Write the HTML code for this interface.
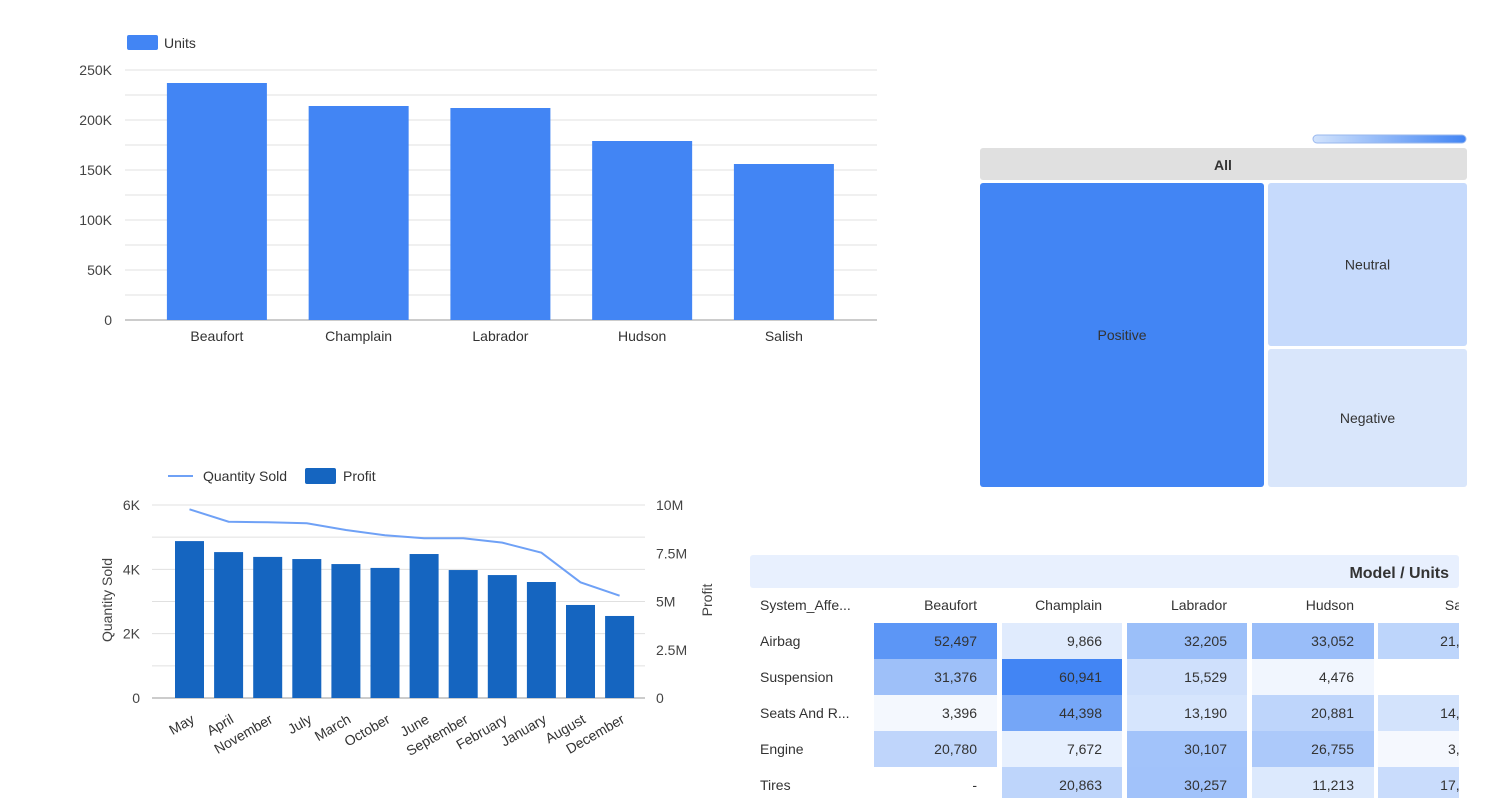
<!DOCTYPE html>
<html><head><meta charset="utf-8">
<style>
body{margin:0;width:1500px;height:798px;background:#fff;font-family:"Liberation Sans",Arial,sans-serif;overflow:hidden;position:relative}
svg{position:absolute;left:0;top:0}
</style></head>
<body>
<svg id="s" width="1500" height="798" font-family="Liberation Sans, Arial, sans-serif"></svg>
<script>
const NS="http://www.w3.org/2000/svg";
const svg=document.getElementById('s');
function mk(tag,a,parent,txt){const e=document.createElementNS(NS,tag);for(const k in a)e.setAttribute(k,a[k]);if(txt!==undefined)e.textContent=txt;(parent||svg).appendChild(e);return e;}

// ---- Chart 1 data
const models=["Beaufort","Champlain","Labrador","Hudson","Salish"];
const units=[237000,214000,212000,179000,156000];
const unitTicks=["0","50K","100K","150K","200K","250K"];

// ---- Chart 2 data
const months=["May","April","November","July","March","October","June","September","February","January","August","December"];
const profit=[8.13,7.56,7.31,7.20,6.94,6.74,7.46,6.63,6.37,6.01,4.82,4.25];
const qty=[5866,5481,5462,5431,5223,5058,4965,4965,4829,4518,3596,3181];
const qtyTicks=["0","2K","4K","6K"];
const profitTicks=["0","2.5M","5M","7.5M","10M"];

// ---- Treemap data
const tmLabels=["Positive","Neutral","Negative"];

// ---- Table data
const sysRows=["Airbag","Suspension","Seats And R...","Engine","Tires"];
const tblCols=["Beaufort","Champlain","Labrador","Hudson","Salish"];
const tblVals=[[52497,9866,32205,33052,21245],[31376,60941,15529,4476,null],[3396,44398,13190,20881,14236],[20780,7672,30107,26755,3312],[null,20863,30257,11213,17354]];

// ===== Chart 1
const g1=mk('g',{});


const y1=v=>320-v/250000*250;
for(let i=0;i<=10;i++){const l=mk('line',{x1:125,x2:877,y1:y1(i*25000),y2:y1(i*25000),stroke:i==0?'#999':'#e0e0e0','stroke-width':1},g1);}
unitTicks.forEach((t,i)=>{const e=mk('text',{x:112,y:y1(i*50000)+5,'text-anchor':'end','font-size':14,fill:'#444'},g1,t);});
const bx1=i=>146+141.75*i+70.9;
units.forEach((v,i)=>{const r=mk('rect',{x:bx1(i)-50,y:y1(v),width:100,height:320-y1(v),fill:'#4285f4'},g1);
const t=mk('text',{x:bx1(i),y:341,'text-anchor':'middle','font-size':14,fill:'#333'},g1,models[i]);});
let e=mk('rect',{x:127,y:35,width:31,height:15,rx:2,fill:'#4285f4'},g1);
e=mk('text',{x:164,y:48,'font-size':14,fill:'#333'},g1,'Units');

// ===== Chart 2
const g2=mk('g',{});


const yq=v=>698-v/6000*193;
const yp=v=>698-v/10*193;
for(let i=0;i<=6;i++){const l=mk('line',{x1:152,x2:645,y1:yq(i*1000),y2:yq(i*1000),stroke:i==0?'#999':'#e0e0e0','stroke-width':1},g2);}
qtyTicks.forEach((t,i)=>{const e=mk('text',{x:140,y:yq(i*2000)+5,'text-anchor':'end','font-size':14,fill:'#444'},g2,t);});
profitTicks.forEach((t,i)=>{const e=mk('text',{x:656,y:yp(i*2.5)+5,'font-size':14,fill:'#444'},g2,t);});
const bx2=i=>170+39.1*i+19.5;
months.forEach((m,i)=>{const r=mk('rect',{x:bx2(i)-14.5,y:yp(profit[i]),width:29,height:698-yp(profit[i]),fill:'#1565c0'},g2);
const t=mk('text',{x:0,y:0,'text-anchor':'end','font-size':14,fill:'#333',transform:`translate(${bx2(i)+6},${722}) rotate(-30)`},g2,m);});
const pl=mk('polyline',{points:qty.map((v,i)=>bx2(i)+','+yq(v)).join(' '),fill:'none',stroke:'#6fa1f6','stroke-width':2},g2);

e=mk('text',{x:0,y:0,'text-anchor':'middle','font-size':14,fill:'#444',transform:'translate(112,600) rotate(-90)'},g2,'Quantity Sold');
e=mk('text',{x:0,y:0,'text-anchor':'middle','font-size':14,fill:'#444',transform:'translate(712,600) rotate(-90)'},g2,'Profit');
e=mk('line',{x1:168,x2:193,y1:476,y2:476,stroke:'#6fa1f6','stroke-width':2},g2);
e=mk('text',{x:203,y:481,'font-size':14,fill:'#333'},g2,'Quantity Sold');
e=mk('rect',{x:305,y:468,width:31,height:16,rx:2,fill:'#1565c0'},g2);
e=mk('text',{x:343,y:481,'font-size':14,fill:'#333'},g2,'Profit');

// ===== Treemap
const g3=mk('g',{});


const gr=mk('linearGradient',{id:'pg',x1:0,x2:1},mk('defs',{},g3));mk('stop',{offset:0,'stop-color':'#d2e3fc'},gr);mk('stop',{offset:1,'stop-color':'#4285f4'},gr);
e=mk('rect',{x:1313,y:135,width:153,height:8,rx:4,fill:'url(#pg)',stroke:'#9ab8ee'},g3);
e=mk('rect',{x:980,y:148,width:487,height:32,rx:3,fill:'#e0e0e0'},g3);
e=mk('text',{x:1223,y:170,'text-anchor':'middle','font-size':14,'font-weight':'bold',fill:'#333'},g3,'All');
const tmRects=[[980,183,284,304,'#4285f4'],[1268,183,199,163,'#c6dafc'],[1268,349,199,138,'#d9e6fb']];
tmLabels.forEach((l,i)=>{const [x,y,w,h,c]=tmRects[i];const r=mk('rect',{x,y,width:w,height:h,rx:3,fill:c},g3);
const t=mk('text',{x:x+w/2,y:y+h/2+5,'text-anchor':'middle','font-size':14,fill:'#333'},g3,l);});

// ===== Table
const g4=mk('g',{});


const cp=mk('clipPath',{id:'tc'},mk('defs',{},g4));mk('rect',{x:750,y:550,width:709,height:248},cp);
const gt=mk('g',{'clip-path':'url(#tc)'},g4);
e=mk('rect',{x:750,y:555,width:709,height:33,rx:3,fill:'#e8f0fe'},gt);
e=mk('text',{x:1449,y:578,'text-anchor':'end','font-size':16,'font-weight':'bold',fill:'#333'},gt,'Model / Units');
e=mk('text',{x:760,y:610,'font-size':14,fill:'#333'},gt,'System_Affe...');
const colX=[874,1002,1127,1252,1378],colW=[123,120,120,122,120];
const textEnd=[977,1102,1227,1354,1483];
tblCols.forEach((c,j)=>{const t=mk('text',{x:textEnd[j],y:610,'text-anchor':'end','font-size':14,fill:'#333'},gt,c);});
function col(v){if(v==null)return '#fff';const f=Math.min(1,v/61000);const a=[255,255,255],b=[66,133,244];return `rgb(${a.map((x,k)=>Math.round(x+(b[k]-x)*f)).join(',')})`;}
function fmt(v){return v==null?'-':v.toLocaleString('en-US');}
sysRows.forEach((r,i)=>{const y=623+36*i;
const t=mk('text',{x:760,y:y+23,'font-size':14,fill:'#333'},gt,r);
tblVals[i].forEach((v,j)=>{const c=mk('rect',{x:colX[j],y:y,width:colW[j],height:36,fill:col(v)},gt);
const txt=(v==null&&j==4)?'':fmt(v);
const tt=mk('text',{x:textEnd[j],y:y+23,'text-anchor':'end','font-size':14,fill:'#333'},gt,txt);});
});
</script>
</body></html>
